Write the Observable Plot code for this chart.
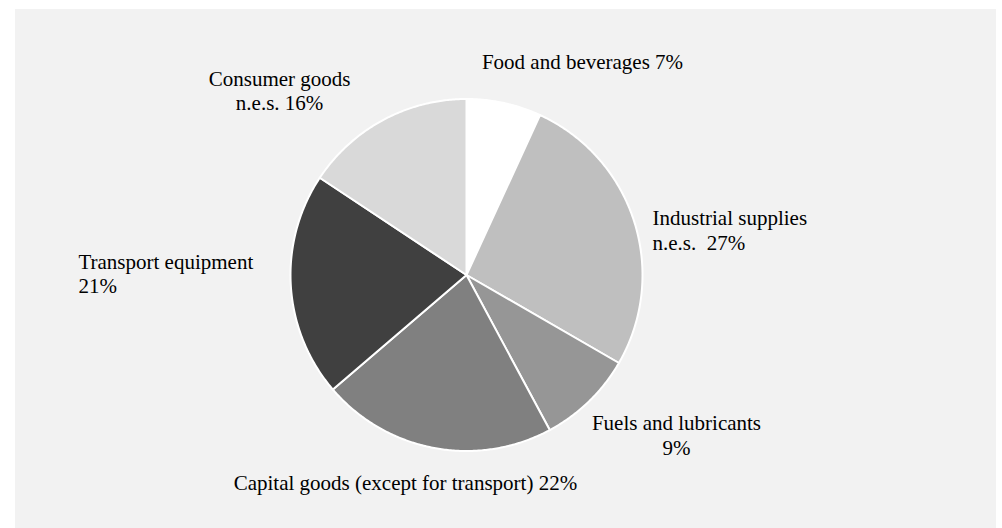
<!DOCTYPE html>
<html>
<head>
<meta charset="utf-8">
<script src="https://cdn.jsdelivr.net/npm/d3@7"></script>
<script src="https://cdn.jsdelivr.net/npm/@observablehq/plot@0.6"></script>
<style>
  html, body { margin: 0; padding: 0; background: #ffffff; }
  #wrap { position: relative; width: 1002px; height: 528px; overflow: hidden; }
  #panel { position: absolute; left: 15px; top: 9px; width: 981px; height: 519px; background: #f2f2f2; }
  #chart { position: absolute; left: 0; top: 0; }
  #chart svg { background: transparent; }
</style>
</head>
<body>
<div id="wrap"><div id="panel"></div><div id="chart"></div></div>
<script>
// Data (clockwise from 12 o'clock)
const categories = ["Food and beverages", "Industrial supplies n.e.s.", "Fuels and lubricants",
                    "Capital goods (except for transport)", "Transport equipment", "Consumer goods n.e.s."];
const shares = [7, 27, 9, 22, 21, 16];
const labels = ["Food and beverages 7%", "Industrial supplies\nn.e.s.  27%", "Fuels and lubricants\n9%",
                "Capital goods (except for transport) 22%", "Transport equipment\n21%", "Consumer goods\nn.e.s. 16%"];
const greys = ["#ffffff", "#bfbfbf", "#969696", "#808080", "#404040", "#d9d9d9"];

// Layout: label anchor positions in unit-circle coordinates, and text anchors
const labelX = [0.659, 1.057, 1.193, -0.347, -2.205, -1.062];
const labelY = [1.213, 0.256, -0.906, -1.179, 0.011, 1.051];
const labelAnchor = ["middle", "start", "middle", "middle", "start", "middle"];

// Build slice outlines from the pie layout
const total = d3.sum(shares);
const slices = [];
let acc = 0;
categories.forEach((c, i) => {
  const a0 = acc / total * 2 * Math.PI;
  acc += shares[i];
  const a1 = acc / total * 2 * Math.PI;
  slices.push({cat: c, x: 0, y: 0});
  const n = Math.max(2, Math.ceil((a1 - a0) / (Math.PI / 360)));
  for (let k = 0; k <= n; k++) {
    const a = a0 + (a1 - a0) * k / n;
    slices.push({cat: c, x: Math.sin(a), y: Math.cos(a)});
  }
  slices.push({cat: c, x: 0, y: 0});
});

const labelData = labels.map((t, i) => ({t, x: labelX[i], y: labelY[i], anchor: labelAnchor[i]}));

const textOpts = {
  fontFamily: "'Liberation Serif', 'Times New Roman', serif",
  fontSize: 21,
  fill: "#000",
  lineHeight: 1.18,
  lineAnchor: "middle"
};

const chart = Plot.plot({
  width: 1002,
  height: 528,
  margin: 0,
  style: {background: "transparent", overflow: "visible"},
  x: {domain: [-1, 1], range: [290, 642], axis: null},
  y: {domain: [-1, 1], range: [450.5, 98.5], axis: null},
  color: {type: "ordinal", domain: categories, range: greys},
  marks: [
    Plot.line(slices, {x: "x", y: "y", z: "cat", fill: "cat", stroke: "#ffffff", strokeWidth: 2,
                       strokeLinejoin: "round", curve: "linear"}),
    Plot.text(labelData.filter(d => d.anchor === "middle"), {x: "x", y: "y", text: "t", textAnchor: "middle", ...textOpts}),
    Plot.text(labelData.filter(d => d.anchor === "start"), {x: "x", y: "y", text: "t", textAnchor: "start", ...textOpts})
  ]
});
document.getElementById("chart").appendChild(chart);
</script>
</body>
</html>
